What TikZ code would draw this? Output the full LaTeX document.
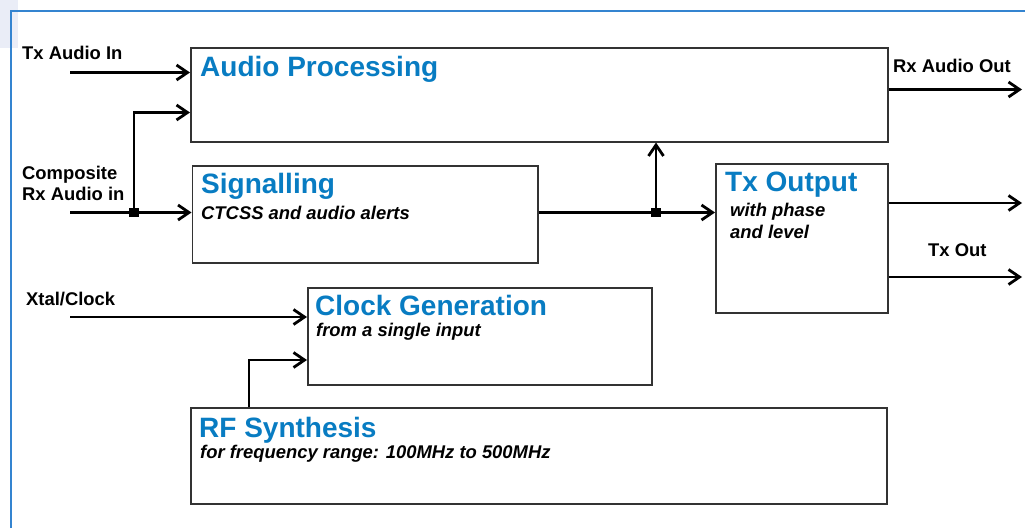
\documentclass[tikz,border=0pt]{standalone}
\usepackage{fontspec}
\setmainfont{Liberation Sans}
\usepackage{tikz}
\usetikzlibrary{arrows.meta}
\definecolor{titleblue}{RGB}{8,124,194}
\definecolor{framec}{RGB}{52,132,208}
\definecolor{patchc}{RGB}{234,237,247}
\tikzstyle{block}=[draw=black!80,line width=1.5pt,rectangle,anchor=north west,inner sep=0pt]
\tikzstyle{title}=[anchor=base west,inner sep=0pt,text=titleblue,font=\fontsize{28}{30}\selectfont\bfseries]
\tikzstyle{sub}=[anchor=base west,inner sep=0pt,align=left,font=\fontsize{18.4}{21.6}\selectfont\bfseries\itshape]
\tikzstyle{lbl}=[anchor=base west,inner sep=0pt,align=left,font=\fontsize{18.4}{20.7}\selectfont\bfseries]
\tikzstyle{junction}=[rectangle,fill=black,inner sep=0pt,minimum size=9.5pt]
\tikzstyle{arrow}=[-{Straight Barb[length=11pt,width=15pt]},line width=2.8pt]
\tikzset{every picture/.style={
    x=1pt,y=-1pt
  }
}
\begin{document}
\begin{tikzpicture}
      \useasboundingbox (0,0) rectangle (1025,528);
      \fill[patchc] (0,0) rectangle (18,48);
      \draw[framec,line width=1.3pt] (11,528) -- (11,11) -- (1025,11);
      % blocks
      \node[block,minimum width=697pt,minimum height=94pt] at (190,47) (audio) {};
      \node[block,minimum width=345.5pt,minimum height=97pt] at (191.5,165) (sig) {};
      \node[block,minimum width=172pt,minimum height=149pt] at (715,163) (txo) {};
      \node[block,minimum width=344pt,minimum height=97pt] at (307,287) (clk) {};
      \node[block,minimum width=696pt,minimum height=96pt] at (190,407) (rf) {};
      \node[title] at ([shift={(10,29)}]audio.north west) (audiot) {Audio Processing};
      \node[title] at ([shift={(9.5,28)}]sig.north west) (sigt) {Signalling};
      \node[sub] at ([shift={(9.5,54.3)}]sig.north west) (sigs) {CTCSS and audio alerts};
      \node[title] at ([shift={(10,28)}]txo.north west) (txot) {Tx Output};
      % base of a two-line node is its last line
      \node[sub] at ([shift={(15,75.3)}]txo.north west) (txos) {with phase\\and level};
      \node[title] at ([shift={(8,28)}]clk.north west) (clkt) {Clock Generation};
      \node[sub] at ([shift={(9,49.7)}]clk.north west) (clks) {from a single input};
      \node[title] at ([shift={(9,30.5)}]rf.north west) (rft) {RF Synthesis};
      \node[sub] at ([shift={(10,51)}]rf.north west) (rfs) {for frequency range: 100MHz to 500MHz};
      % signal labels
      \node[lbl] at (22,59) (txinl) {Tx Audio In};
      \node[lbl] at (22,200) (rxinl) {Composite\\Rx Audio in};
      \node[lbl] at (26,305) (xtall) {Xtal/Clock};
      \node[lbl] at (893,72.7) (rxoutl) {Rx Audio Out};
      \node[lbl] at (928,256) (txoutl) {Tx Out};
      % connectors
      \coordinate (txin) at (70,72.5);
      \coordinate (rxin) at (70,212.5);
      \coordinate (rxup) at (134,112.5);
      \coordinate (xtal) at (70,317);
      \coordinate (rfup) at (249,360);
      \coordinate (rxout) at (1022,89.5);
      \coordinate (out1) at (1022,203);
      \coordinate (out2) at (1022,277);
      \node[junction] at (134,212.5) (j1) {};
      \node[junction] at (656,212.5) (j2) {};
      \draw[arrow] (txin)--(txin -| audio.west);
      \draw[arrow] (rxin)--(rxin -| sig.west);
      \draw[arrow] (j1.center)--(rxup)--(rxup -| audio.west);
      \draw[arrow] (j2 -| sig.east)--(j2 -| txo.west);
      \draw[arrow] (j2.center)--(j2 |- audio.south);
      \draw[arrow] (rxout -| audio.east)--(rxout);
      \draw[arrow] (out1 -| txo.east)--(out1);
      \draw[arrow] (out2 -| txo.east)--(out2);
      \draw[arrow] (xtal)--(xtal -| clk.west);
      \draw[arrow] (rfup |- rf.north)--(rfup)--(rfup -| clk.west);
    \end{tikzpicture}
\end{document}
